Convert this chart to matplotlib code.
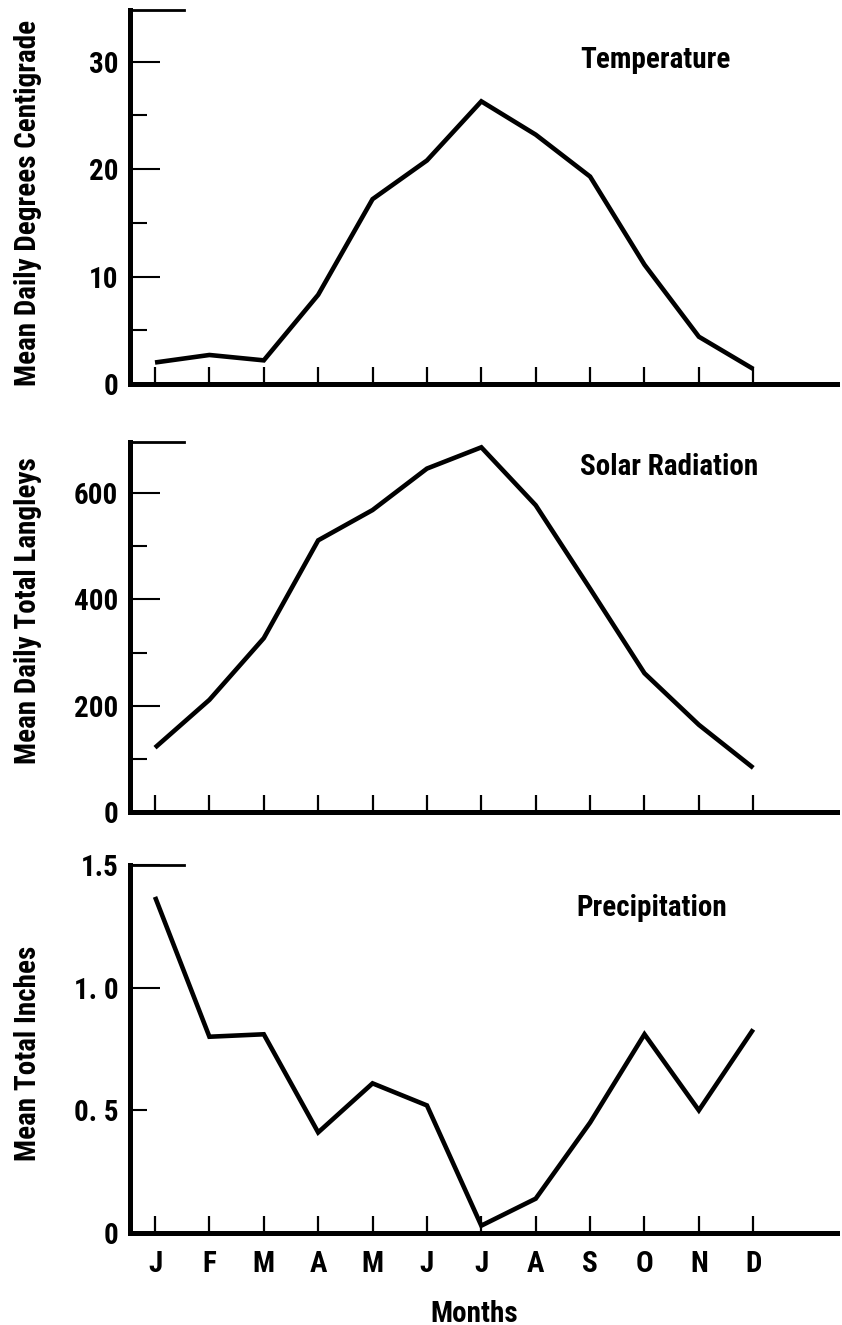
import matplotlib
matplotlib.use("Agg")
import matplotlib.pyplot as plt
from matplotlib import font_manager

# Monthly climate normals
months = ["J", "F", "M", "A", "M", "J", "J", "A", "S", "O", "N", "D"]
temperature_c = [2.0, 2.7, 2.2, 8.3, 17.2, 20.8, 26.3, 23.2, 19.3, 11.1, 4.4, 1.4]
solar_langleys = [121, 211, 327, 511, 568, 646, 686, 577, 420, 261, 164, 83]
precip_inches = [1.37, 0.80, 0.81, 0.41, 0.61, 0.52, 0.03, 0.14, 0.45, 0.81, 0.50, 0.83]

# Axis ticks for each panel
temp_major = [0, 10, 20, 30]
temp_minor = [5, 15, 25]
solar_major = [0, 200, 400, 600]
solar_minor = [100, 300, 500]
precip_major = [0, 1.0, 1.5]
precip_major_labels = ["0", "1. 0", "1.5"]
precip_minor = [0.5]
precip_minor_labels = ["0. 5"]

installed = {f.name for f in font_manager.fontManager.ttflist}
FONT = [f for f in ["Roboto Condensed", "Roboto", "DejaVu Sans"] if f in installed]
plt.rcParams["font.family"] = FONT
plt.rcParams["font.weight"] = "bold"

W, H = 842, 1325
fig = plt.figure(figsize=(W / 100, H / 100), dpi=100)
fig.patch.set_facecolor("white")


def box(left, top, right, bottom):
    return [left / W, 1 - bottom / H, (right - left) / W, (bottom - top) / H]


LEFT, RIGHT = 130, 837
panels = [
    dict(rect=box(LEFT, 10, RIGHT, 384), y=temperature_c, ylim=(0, 34.8),
         major=temp_major, major_labels=[str(v) for v in temp_major],
         minor=temp_minor, minor_labels=None,
         title="Temperature", title_xy=(0.6365, 0.866),
         ylabel="Mean Daily Degrees Centigrade", ylabel_y=0.484),
    dict(rect=box(LEFT, 442, RIGHT, 812), y=solar_langleys, ylim=(0, 696),
         major=solar_major, major_labels=[str(v) for v in solar_major],
         minor=solar_minor, minor_labels=None,
         title="Solar Radiation", title_xy=(0.6365, 0.9325),
         ylabel="Mean Daily Total Langleys", ylabel_y=0.543),
    dict(rect=box(LEFT, 865, RIGHT, 1233), y=precip_inches, ylim=(0, 1.5),
         major=precip_major, major_labels=precip_major_labels,
         minor=precip_minor, minor_labels=precip_minor_labels,
         title="Precipitation", title_xy=(0.632, 0.883),
         ylabel="Mean Total Inches", ylabel_y=0.487),
]

x = list(range(len(months)))
FS = 21
LFS = 21

for i, p in enumerate(panels):
    ax = fig.add_axes(p["rect"])
    ax.plot(x, p["y"], color="black", lw=3.3, solid_joinstyle="miter",
            solid_capstyle="butt")
    ax.set_xlim(-0.46, 12.54)
    ax.set_ylim(*p["ylim"])

    for side in ("top", "right"):
        ax.spines[side].set_visible(False)
    for side in ("left", "bottom"):
        ax.spines[side].set_linewidth(3.6)
        ax.spines[side].set_capstyle("projecting")

    # short rule closing the top of the value axis
    ax.axhline(p["ylim"][1], xmin=0, xmax=(184 - LEFT) / (RIGHT - LEFT),
               color="black", lw=2.0, clip_on=False)

    ax.set_xticks(x)
    last = i == len(panels) - 1
    if last:
        ax.set_xticklabels(months, fontsize=FS, fontweight="bold")
    ax.tick_params(axis="x", direction="in", length=12, width=1.6,
                   pad=12, labelbottom=last)

    ax.set_yticks(p["major"], labels=p["major_labels"])
    if p["minor_labels"] is None:
        ax.set_yticks(p["minor"], minor=True)
    else:
        ax.set_yticks(p["minor"], labels=p["minor_labels"], minor=True)
    ax.tick_params(axis="y", which="major", direction="in", length=21.5,
                   width=1.5, pad=8.5, labelsize=FS)
    ax.tick_params(axis="y", which="minor", direction="in", length=12,
                   width=1.5, pad=8.5, labelsize=FS)
    for lab in ax.get_yticklabels(minor=False) + ax.get_yticklabels(minor=True):
        lab.set_fontweight("bold")

    ax.set_ylabel(p["ylabel"], fontsize=LFS, fontweight="bold")
    ax.yaxis.set_label_coords(-0.1245, p["ylabel_y"])

    ax.text(p["title_xy"][0], p["title_xy"][1], p["title"], transform=ax.transAxes,
            ha="left", va="center", fontsize=FS, fontweight="bold")

    if last:
        ax.set_xlabel("Months", fontsize=FS, fontweight="bold")
        ax.xaxis.set_label_coords(0.4866, -0.181)

fig.savefig("out.png", dpi=100, facecolor="white")
